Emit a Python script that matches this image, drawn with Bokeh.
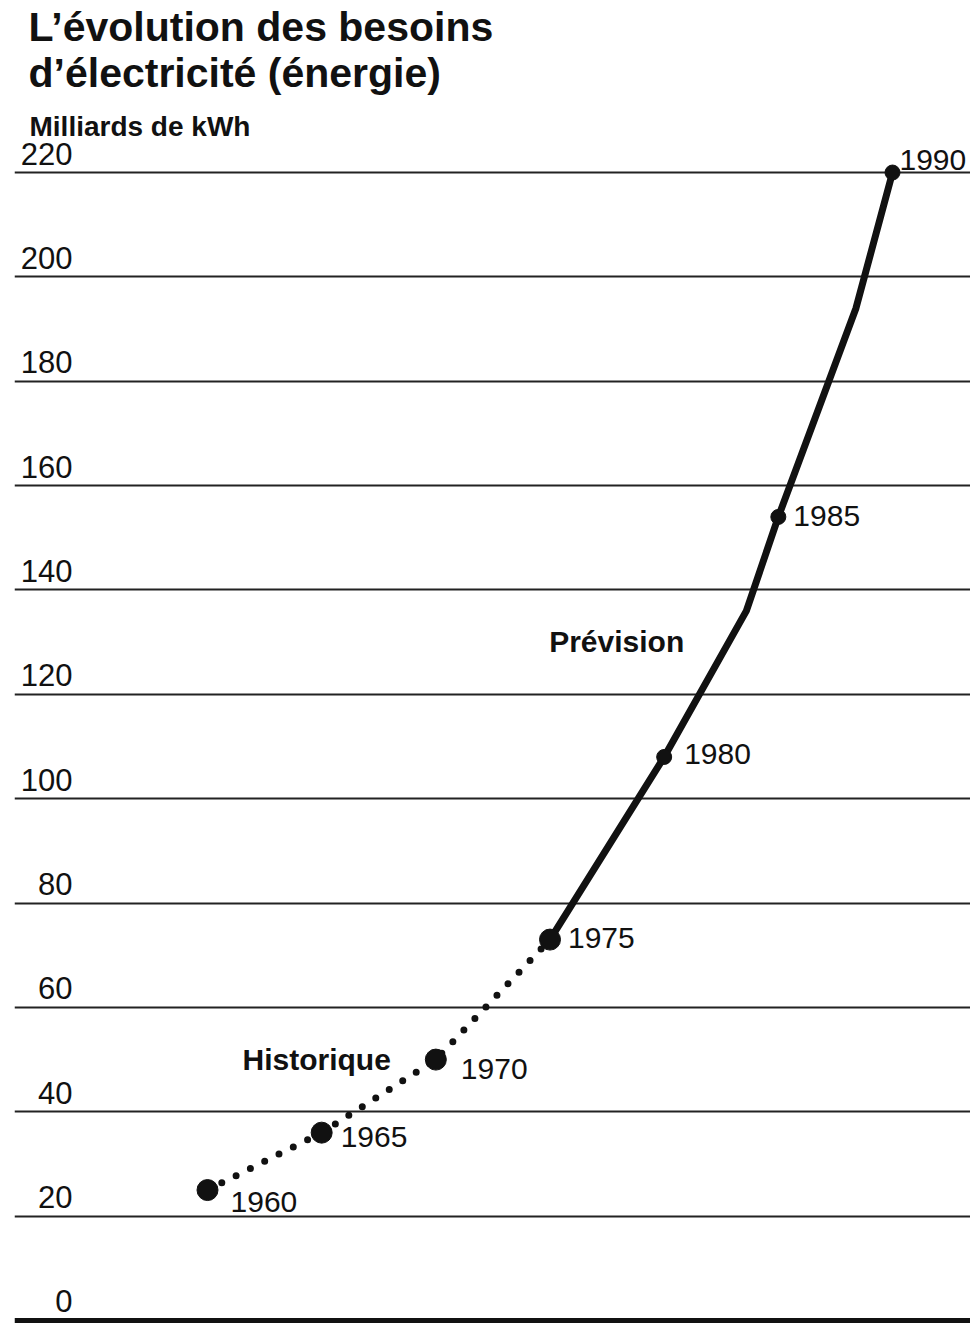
from bokeh.plotting import figure
from bokeh.models import ColumnDataSource, FixedTicker, Span, Range1d
from bokeh.core.properties import value
from bokeh.embed import file_html
from bokeh.resources import INLINE

# ---------------- data ----------------
title_lines = ["L’évolution des besoins", "d’électricité (énergie)"]
unit_label = "Milliards de kWh"

y_ticks = [0, 20, 40, 60, 80, 100, 120, 140, 160, 180, 200, 220]
y_tick_labels = ["0", "20", "40", "60", "80", "100", "120", "140", "160", "180", "200", "220"]

hist_years = [1960, 1965, 1970, 1975]
hist_values = [25, 36, 50, 73]

fc_line_years = [1975, 1980, 1983.6, 1985, 1988.4, 1990]
fc_line_values = [73, 108, 136, 154, 194, 220]

fc_years = [1980, 1985, 1990]
fc_values = [108, 154, 220]

label_years = [1960, 1965, 1970, 1975, 1980, 1985, 1990]
label_values = [25, 36, 50, 73, 108, 154, 220]
label_texts = ["1960", "1965", "1970", "1975", "1980", "1985", "1990"]

hist_note = "Historique"
fc_note = "Prévision"

# ---------------- layout / style ----------------
W, H = 970, 1324
X0, X1 = 1951.547, 1993.416
Y0, Y1 = -0.767, 252.97
label_dx = [23, 19, 25, 18, 20, 15, 7]
label_dy = [12, 4, 9, -2, -3, -1, -13]

FONT = value("Liberation Sans")
INK = "#111111"

p = figure(width=W, height=H, output_backend="svg", toolbar_location=None, tools="",
           x_range=Range1d(X0, X1), y_range=Range1d(Y0, Y1),
           x_axis_location=None, y_axis_location=None,
           min_border_left=14, min_border_right=0, min_border_top=0, min_border_bottom=0,
           background_fill_color="white", border_fill_color="white")
p.outline_line_color = None
p.xgrid.visible = False
p.ygrid.ticker = FixedTicker(ticks=y_ticks[1:])
p.ygrid.grid_line_color = "#222222"
p.ygrid.grid_line_width = 1.8

p.add_layout(Span(location=y_ticks[0], dimension="width", line_color=INK, line_width=5))

# title and unit
p.text(x=[X0], y=[Y1], text=[title_lines[0]], x_offset=14, y_offset=26,
       text_font=FONT, text_font_style="bold", text_font_size="41px",
       text_color=INK, text_baseline="alphabetic", text_align="left")
p.text(x=[X0], y=[Y1], text=[title_lines[1]], x_offset=14, y_offset=72,
       text_font=FONT, text_font_style="bold", text_font_size="41px",
       text_color=INK, text_baseline="alphabetic", text_align="left")
p.text(x=[X0], y=[Y1], text=[unit_label], x_offset=15, y_offset=126,
       text_font=FONT, text_font_style="bold", text_font_size="28px",
       text_color=INK, text_baseline="alphabetic", text_align="left")

# tick labels sitting on top of the grid lines
p.text(x=[X0] * len(y_ticks), y=y_ticks, text=y_tick_labels, x_offset=58, y_offset=-19,
       text_font=FONT, text_font_size="31px", text_color=INK,
       text_baseline="alphabetic", text_align="right")

# historical dotted line
p.line(hist_years, hist_values, line_color=INK, line_width=7, line_dash="0 16",
       line_cap="round")
# forecast solid line
p.line(fc_line_years, fc_line_values, line_color=INK, line_width=7, line_join="round",
       line_cap="round")

p.scatter(hist_years, hist_values, size=21, color=INK)
p.scatter(fc_years, fc_values, size=15, color=INK)

src = ColumnDataSource(dict(x=label_years, y=label_values, t=label_texts,
                            dx=label_dx, dy=label_dy))
p.text(x="x", y="y", text="t", x_offset="dx", y_offset="dy", source=src,
       text_font=FONT, text_font_size="30px", text_color=INK,
       text_baseline="alphabetic", text_align="left")

p.text(x=[hist_years[2]], y=[hist_values[2]], text=[hist_note], x_offset=-45, y_offset=0,
       text_font=FONT, text_font_style="bold", text_font_size="30px", text_color=INK,
       text_baseline="alphabetic", text_align="right")
p.text(x=[fc_years[0]], y=[fc_values[0]], text=[fc_note], x_offset=-115, y_offset=-115,
       text_font=FONT, text_font_style="bold", text_font_size="30px", text_color=INK,
       text_baseline="alphabetic", text_align="left")

open("out.html", "w").write(file_html(p, INLINE))
